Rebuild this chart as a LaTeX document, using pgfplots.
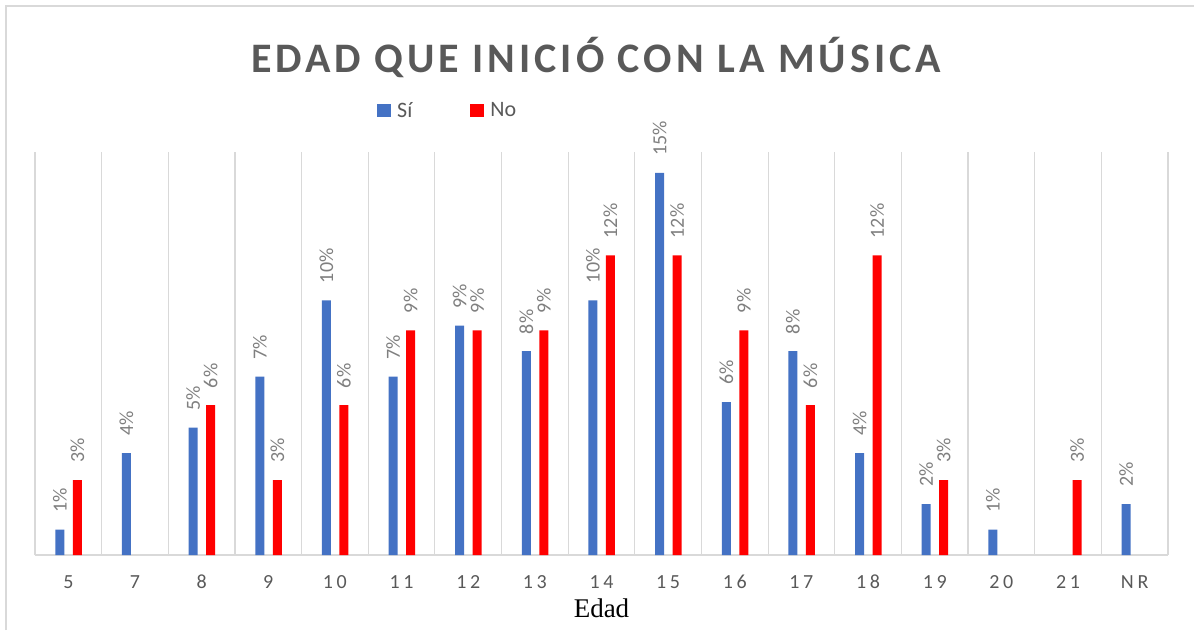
\documentclass[border=0pt]{standalone}
\usepackage{fontspec}
\setmainfont{Carlito}
\newfontfamily\titlefont[LetterSpace=9.5]{Carlito}
\newfontfamily\tickfont[LetterSpace=18]{Carlito}
\newfontfamily\seriffont{Liberation Serif}
\usepackage{pgfplots}
\pgfplotsset{compat=1.18}
\definecolor{siblue}{HTML}{4472C4}
\definecolor{nored}{HTML}{FF0000}
\definecolor{txtgray}{HTML}{595959}
\definecolor{lblgray}{HTML}{7F7F7F}
\definecolor{gridgray}{HTML}{D9D9D9}
\begin{document}
\begin{tikzpicture}[x=1pt,y=1pt]
\path[use as bounding box] (0,0) rectangle (1194,630);
\draw[gridgray, line width=1.5pt] (6,0) -- (6,624) -- (1194,624);
\node[anchor=base, text=txtgray, font=\titlefont\bfseries\fontsize{42}{42}\selectfont] at (596,557) {EDAD QUE INICIÓ CON LA MÚSICA};
\begin{axis}[
  at={(35pt,75pt)}, anchor=south west,
  scale only axis, width=1133pt, height=403pt,
  xmin=-0.5, xmax=16.5, ymin=0, ymax=15.82,
  axis y line=none, ytick=\empty,
  axis x line*=bottom,
  x axis line style={gridgray, line width=1.5pt},
  xtick={0,...,16},
  xticklabels={5,7,8,9,10,11,12,13,14,15,16,17,18,19,20,21,NR},
  major tick length=0pt, minor tick length=0pt,
  minor xtick={-0.5,0.5,...,16.5},
  xminorgrids=true,
  minor grid style={gridgray, line width=1.2pt},
  xticklabel style={anchor=base, yshift=-33pt, text=txtgray, font=\tickfont\fontsize{20}{20}\selectfont},
  xlabel={Edad},
  xlabel style={at={(axis description cs:0.5,0)}, anchor=base, yshift=-62pt, font=\seriffont\fontsize{27}{27}\selectfont, text=black},
  /pgf/number format/assume math mode=true,
  nodes near coords={\pgfmathprintnumber[fixed,precision=0]{\pgfplotspointmeta}\%},
  legend columns=2,
  legend style={draw=none, fill=none, at={(0.30185,1.103)}, anchor=west, inner sep=0pt,
    font=\fontsize{22}{22}\selectfont, text=txtgray,
    /tikz/every odd column/.append style={column sep=4pt},
    /tikz/every even column/.append style={column sep=56pt}},
  legend image code/.code={\fill[#1] (0pt,-6.5pt) rectangle (14pt,6.5pt);},
]
\addplot[ybar, bar width=9pt, bar shift=-8.5pt, fill=siblue, draw=none,
  every node near coord/.style={xshift=-8.5pt, rotate=90, anchor=west, inner xsep=17pt, inner ysep=0pt, text=lblgray, font=\fontsize{20}{20}\selectfont}] coordinates {
  (0,1) (1,4) (2,5) (3,7) (4,10) (5,7) (6,9) (7,8) (8,10) (9,15) (10,6) (11,8) (12,4) (13,2) (14,1) (16,2)
};
\addlegendentry{Sí}
\addplot[ybar, bar width=9pt, bar shift=9pt, fill=nored, draw=none,
  every node near coord/.style={xshift=9pt, rotate=90, anchor=west, inner xsep=17pt, inner ysep=0pt, text=lblgray, font=\fontsize{20}{20}\selectfont}] coordinates {
  (0,2.94) (2,5.88) (3,2.94) (4,5.88) (5,8.82) (6,8.82) (7,8.82) (8,11.76) (9,11.76) (10,8.82) (11,5.88) (12,11.76) (13,2.94) (15,2.94)
};
\addlegendentry{No}
\end{axis}
\end{tikzpicture}
\end{document}
